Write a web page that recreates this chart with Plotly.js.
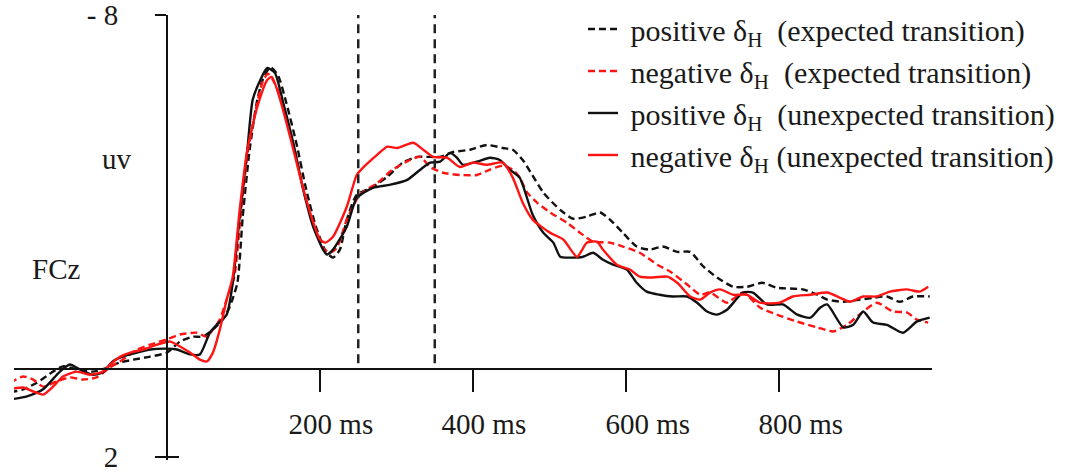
<!DOCTYPE html>
<html>
<head>
<meta charset="utf-8">
<script src="https://cdn.plot.ly/plotly-3.0.1.min.js"></script>
<style>
  html, body { margin: 0; padding: 0; background: #fff; }
  #chart { width: 1071px; height: 472px; }
</style>
</head>
<body>
<div id="chart"></div>
<script>
// ---- Data (time in ms, amplitude in µV; negative plotted upward) ----
const seriesNames = [
  "positive δ<sub>H</sub>\u00a0\u00a0(expected transition)",
  "negative δ<sub>H</sub>\u00a0\u00a0(expected transition)",
  "positive δ<sub>H</sub>\u00a0\u00a0(unexpected transition)",
  "negative δ<sub>H</sub>\u00a0(unexpected transition)"
];

const timePosExp = [-205,-188,-170,-149,-136,-118,-97,-78,-61,-44,-22,0,17,34,47,60,73,82,92,99,108,118,125,135,145,156,169,182,195,208,217,226,235,248,269,288,308,327,340,357,374,396,418,439,452,465,475,492,514,531,549,566,579,596,614,631,648,667,684,701,719,740,758,778,797,831,850,863,884,906,923,941,958,975,997];
const uvPosExp   = [0.54,0.47,0.32,0.07,-0.05,0.02,0.07,-0.02,-0.14,-0.20,-0.27,-0.36,-0.61,-0.72,-0.72,-0.88,-1.11,-1.40,-1.94,-3.44,-4.95,-6.08,-6.53,-6.82,-6.64,-6.01,-5.11,-4.05,-3.19,-2.64,-2.51,-2.69,-3.37,-3.93,-4.11,-4.34,-4.66,-4.79,-4.79,-4.79,-4.90,-4.95,-5.06,-4.99,-4.95,-4.72,-4.45,-3.98,-3.59,-3.39,-3.44,-3.53,-3.37,-3.07,-2.76,-2.69,-2.76,-2.64,-2.64,-2.31,-2.06,-1.85,-1.85,-1.94,-1.83,-1.79,-1.67,-1.56,-1.51,-1.56,-1.60,-1.63,-1.51,-1.63,-1.63];

const timeNegExp = [-205,-188,-175,-162,-144,-127,-110,-92,-75,-58,-39,-22,0,17,39,52,60,69,78,88,97,106,118,125,132,142,154,167,180,193,204,213,222,235,252,275,295,318,331,344,361,383,405,422,439,452,461,471,484,501,523,540,557,579,596,618,641,658,680,697,710,732,753,775,797,824,850,871,889,910,928,949,967,980,995];
const uvNegExp   = [0.32,0.18,0.25,0.41,0.29,0.20,0.25,0.20,-0.02,-0.20,-0.43,-0.54,-0.66,-0.77,-0.81,-0.72,-0.88,-1.11,-1.56,-2.08,-3.59,-4.95,-6.01,-6.49,-6.67,-6.42,-5.81,-4.95,-3.93,-3.19,-2.73,-2.62,-2.73,-3.37,-3.93,-4.20,-4.50,-4.72,-4.79,-4.56,-4.43,-4.38,-4.38,-4.50,-4.59,-4.50,-4.32,-3.98,-3.75,-3.53,-3.30,-3.07,-2.87,-2.85,-2.76,-2.62,-2.35,-2.19,-1.90,-1.67,-1.72,-1.49,-1.72,-1.38,-1.22,-1.06,-0.93,-0.84,-0.99,-1.29,-1.49,-1.29,-1.27,-1.11,-1.04];

const timePosUnexp = [-205,-183,-162,-140,-127,-114,-97,-84,-71,-58,-39,-22,0,13,30,43,56,65,78,86,95,105,112,122,131,141,152,165,178,191,204,209,217,235,248,269,292,314,331,344,357,370,379,387,405,422,435,448,461,478,492,505,514,527,544,557,570,583,601,614,627,644,661,680,693,706,719,732,753,766,784,805,824,841,854,863,884,897,910,923,941,962,980,997];
const uvPosUnexp   = [0.70,0.63,0.47,0.07,-0.09,0.02,0.14,0.09,-0.16,-0.27,-0.36,-0.43,-0.45,-0.43,-0.32,-0.32,-0.81,-0.99,-1.22,-1.94,-3.44,-4.95,-6.08,-6.53,-6.80,-6.69,-6.01,-5.11,-4.05,-3.21,-2.69,-2.58,-2.69,-3.21,-3.86,-4.09,-4.16,-4.27,-4.50,-4.66,-4.68,-4.88,-4.77,-4.61,-4.68,-4.77,-4.72,-4.50,-4.32,-3.48,-3.07,-2.85,-2.53,-2.51,-2.53,-2.62,-2.46,-2.35,-2.24,-1.94,-1.74,-1.67,-1.63,-1.63,-1.49,-1.29,-1.22,-1.33,-1.72,-1.72,-1.45,-1.45,-1.22,-1.15,-1.38,-1.45,-0.93,-0.99,-1.29,-1.04,-0.99,-0.81,-1.06,-1.15];

const timeNegUnexp = [-205,-188,-175,-162,-149,-136,-118,-101,-84,-71,-61,-48,-31,-13,4,17,30,43,52,60,69,78,86,95,105,118,131,137,148,161,174,187,200,207,217,235,248,256,275,288,301,322,335,348,366,383,400,418,439,452,465,478,501,518,536,549,562,570,588,605,618,635,654,667,684,697,710,723,740,758,775,801,818,841,863,880,893,910,928,945,967,984,995];
const uvNegUnexp   = [0.47,0.43,0.52,0.59,0.41,0.18,0.07,0.14,0.07,-0.14,-0.27,-0.36,-0.43,-0.54,-0.61,-0.50,-0.36,-0.20,-0.16,-0.36,-0.88,-1.56,-2.08,-3.59,-4.95,-5.92,-6.53,-6.60,-6.08,-5.24,-4.34,-3.53,-2.92,-2.85,-2.98,-3.66,-4.38,-4.54,-4.84,-5.02,-4.99,-5.11,-4.95,-4.79,-4.77,-4.56,-4.66,-4.61,-4.66,-4.32,-3.75,-3.37,-3.07,-2.92,-2.53,-2.85,-2.87,-2.69,-2.35,-2.24,-2.08,-2.06,-2.08,-1.94,-1.63,-1.56,-1.72,-1.79,-1.67,-1.67,-1.49,-1.49,-1.63,-1.67,-1.72,-1.60,-1.51,-1.63,-1.63,-1.74,-1.79,-1.74,-1.85];

const windowMarkersMs = [250, 350];
const xTickVals = [200, 400, 600, 800];
const xTickText = ["200 ms", "400 ms", "600 ms", "800 ms"];
const yTickVals = [-8, 2];
const yTickText = ["- 8", "2"];
const xRange = [-200, 1000];
const yRange = [2.07, -8];

// ---- Styling ----
const FONT = "'Liberation Serif', 'Times New Roman', serif";
const TXT = "#1a1a1a";
const RED = "#ff1414";
const NB = "\u00a0";
const xLabelPad = [3, 3, 6, 6];   // visual offset of tick labels in the original
const styles = [
  {color: "#111", dash: "7px,4px"},
  {color: RED, dash: "7px,4px"},
  {color: "#111", dash: "solid"},
  {color: RED, dash: "solid"}
];
const xs = [timePosExp, timeNegExp, timePosUnexp, timeNegUnexp];
const ys = [uvPosExp, uvNegExp, uvPosUnexp, uvNegUnexp];

const traces = xs.map((x, i) => ({
  type: "scatter", mode: "lines", x: x, y: ys[i],
  name: NB + seriesNames[i],
  line: {color: styles[i].color, dash: styles[i].dash, width: 2.4, shape: "spline", smoothing: 0.6},
  hoverinfo: "skip"
}));
// helper trace so the second (tick-only) y axis is drawn
traces.push({type: "scatter", mode: "lines", x: [], y: [], yaxis: "y2", showlegend: false, hoverinfo: "skip"});

const y0Frac = (yRange[0] - 0) / (yRange[0] - yRange[1]);
const x0Frac = (0 - xRange[0]) / (xRange[1] - xRange[0]);

const shapes = windowMarkersMs.map(t => ({
  type: "line", xref: "x", yref: "y", x0: t, x1: t, y0: -0.12, y1: yRange[1],
  line: {color: "#222", width: 2.5, dash: "9px,6px"}
}));

const layout = {
  width: 1071, height: 472,
  margin: {l: 14, r: 139, t: 15, b: 11.5, autoexpand: false},
  paper_bgcolor: "#fff", plot_bgcolor: "#fff",
  showlegend: true,
  font: {family: FONT, size: 29, color: TXT},
  xaxis: {
    range: xRange, autorange: false, anchor: "free", position: y0Frac,
    showgrid: false, zeroline: false, showline: true, linecolor: "#111", linewidth: 2,
    ticks: "outside", ticklen: 22, tickwidth: 2, tickcolor: "#111",
    tickvals: xTickVals, ticktext: xTickText.map((s, i) => NB.repeat(xLabelPad[i]) + s),
    ticklabelstandoff: 8,
    tickfont: {family: FONT, size: 29, color: TXT}
  },
  yaxis: {
    range: yRange, autorange: false, anchor: "free", position: x0Frac,
    showgrid: false, zeroline: false, showline: true, linecolor: "#111", linewidth: 2,
    ticks: "outside", ticklen: 11, tickwidth: 2, tickcolor: "#111",
    tickvals: yTickVals, ticktext: yTickText, ticklabelstandoff: 31,
    ticklabeloverflow: "allow",
    tickfont: {family: FONT, size: 29, color: TXT}
  },
  yaxis2: {
    range: yRange, autorange: false, overlaying: "y", anchor: "free", position: x0Frac,
    showgrid: false, zeroline: false, showline: false, showticklabels: false,
    ticks: "inside", ticklen: 11, tickwidth: 2, tickcolor: "#111", tickvals: yTickVals
  },
  legend: {
    x: (583 - 14) / 918, xref: "paper", y: 1.027, yanchor: "top", xanchor: "left",
    bgcolor: "rgba(0,0,0,0)", borderwidth: 0,
    font: {family: FONT, size: 30, color: TXT},
    itemwidth: 30, tracegroupgap: 0
  },
  shapes: shapes,
  annotations: [
    {text: "uv", xref: "paper", yref: "paper", x: (117 - 14) / 918, y: (460.5 - 159) / 445.5,
     showarrow: false, xanchor: "center", yanchor: "middle", font: {family: FONT, size: 29, color: TXT}},
    {text: "FCz", xref: "paper", yref: "paper", x: (56 - 14) / 918, y: (460.5 - 269) / 445.5,
     showarrow: false, xanchor: "center", yanchor: "middle", font: {family: FONT, size: 29, color: TXT}}
  ]
};

Plotly.newPlot("chart", traces, layout, {displayModeBar: false, staticPlot: true});
</script>
</body>
</html>
